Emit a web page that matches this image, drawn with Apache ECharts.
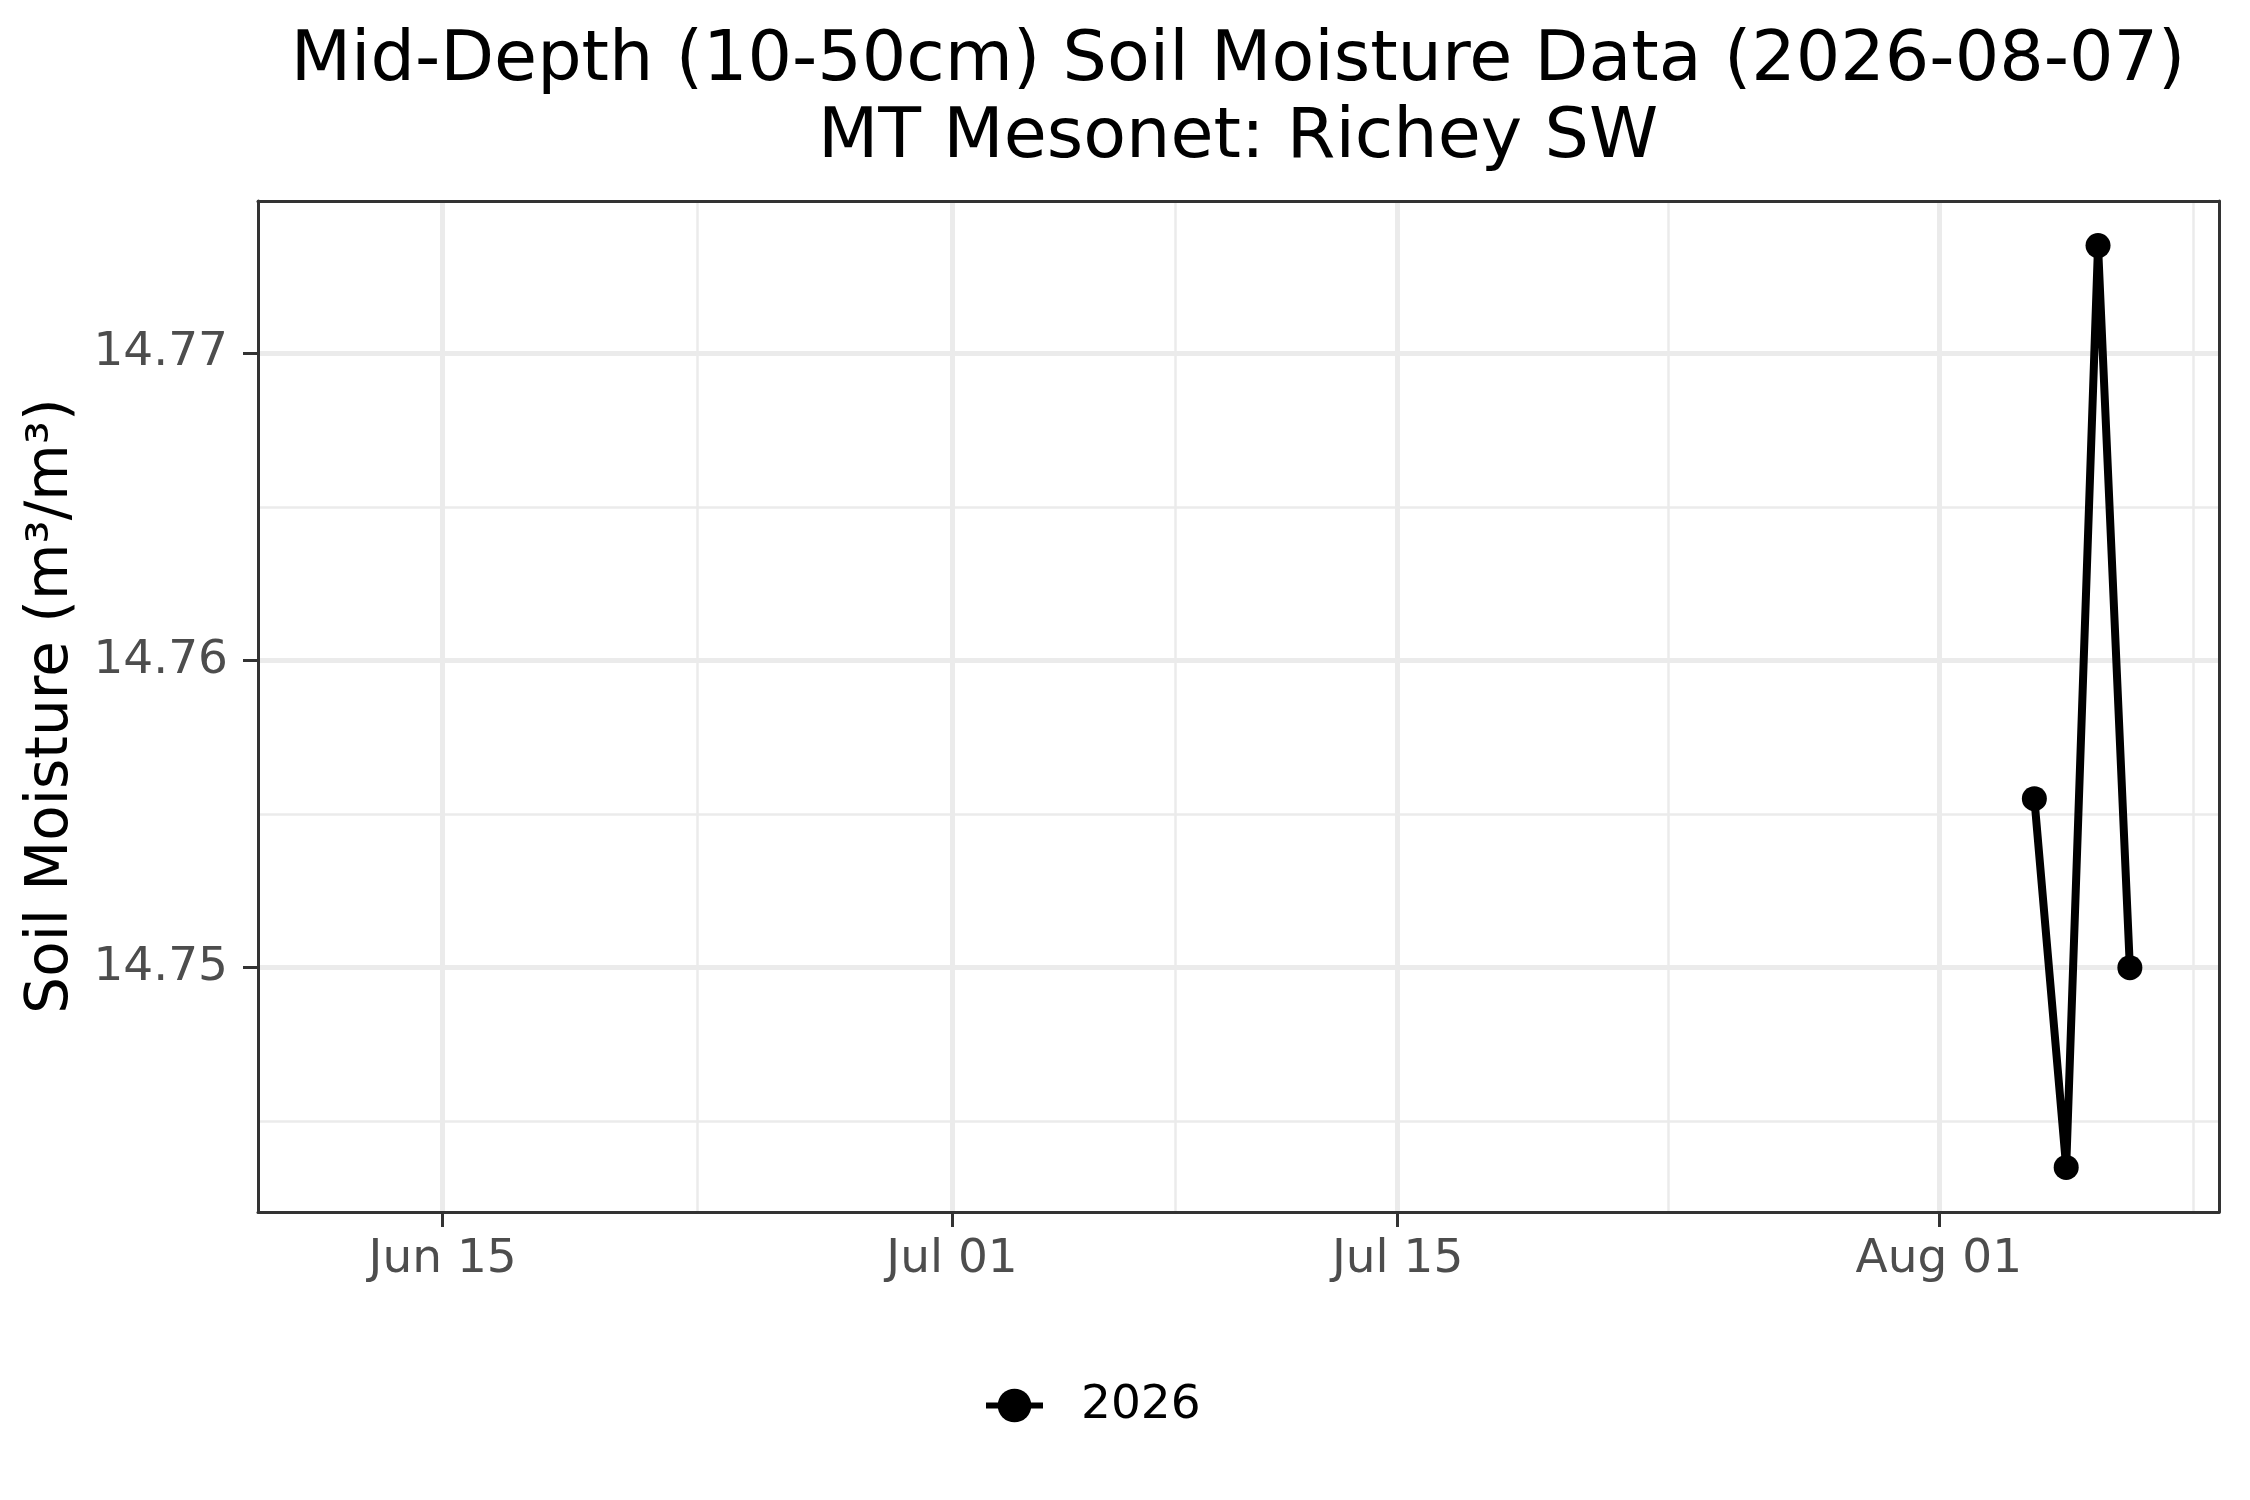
<!DOCTYPE html>
<html>
<head>
<meta charset="utf-8">
<script src="https://cdn.jsdelivr.net/npm/echarts@6/dist/echarts.min.js"></script>
<style>
  html, body { margin: 0; padding: 0; background: #fff; }
  #chart { width: 2250px; height: 1500px; }
</style>
</head>
<body>
<div id="chart"></div>
<script>
// data
var dates = ['2026-08-04', '2026-08-05', '2026-08-06', '2026-08-07'];
var moisture = [14.7555, 14.7435, 14.7735, 14.7500];
var seriesName = '2026';

// ticks
var xMajor = ['2026-06-15', '2026-07-01', '2026-07-15', '2026-08-01'];
var xMinor = ['2026-06-23', '2026-07-08', '2026-07-23T12:00', '2026-08-09'];
var yMajor = [14.75, 14.76, 14.77];
var yMinor = [14.745, 14.755, 14.765];

var DAY = 86400000;
var months = ['Jan','Feb','Mar','Apr','May','Jun','Jul','Aug','Sep','Oct','Nov','Dec'];
function ts(s) {
  if (s.indexOf('T') < 0) s += 'T00:00';
  return Date.parse(s + ':00Z');
}
function fmtDate(v) {
  var d = new Date(v);
  var dd = d.getUTCDate();
  return months[d.getUTCMonth()] + ' ' + (dd < 10 ? '0' + dd : dd);
}

var xMin = ts('2026-06-09') + 0.2 * DAY;
var xMax = ts('2026-08-09') + 0.8 * DAY;
var yMin = 14.74205, yMax = 14.77495;

var font = 'DejaVu Sans';
var border = { show: true, onZero: false, lineStyle: { color: '#333333', width: 3 } };
var chart = echarts.init(document.getElementById('chart'));

var points = dates.map(function (d, i) { return [ts(d), moisture[i]]; });

chart.setOption({
  animation: false,
  backgroundColor: '#ffffff',
  textStyle: { fontFamily: font },
  graphic: [
    { type: 'text', x: 1238, y: 62, style: { text: 'Mid-Depth (10-50cm) Soil Moisture Data (2026-08-07)', font: '70px "DejaVu Sans"', fill: '#000', textAlign: 'center', textVerticalAlign: 'middle' } },
    { type: 'text', x: 1238, y: 139, style: { text: 'MT Mesonet: Richey SW', font: '70px "DejaVu Sans"', fill: '#000', textAlign: 'center', textVerticalAlign: 'middle' } },
    { type: 'text', x: 52, y: 706, rotation: Math.PI / 2, style: { text: 'Soil Moisture (m³/m³)', font: '58px "DejaVu Sans"', fill: '#000', textAlign: 'center', textVerticalAlign: 'middle' } }
  ],
  grid: {
    left: 258, right: 31, top: 201, bottom: 288,
    containLabel: false, outerBoundsMode: 'none', show: false
  },
  legend: {
    data: [seriesName],
    left: 978, top: 1377,
    itemWidth: 57, itemHeight: 42,
    textStyle: { fontSize: 47, color: '#000', fontFamily: font, padding: [0, 0, 0, 33] },
    lineStyle: { width: 6 }
  },
  xAxis: [
    {
      type: 'value', min: xMin, max: xMax, scale: true, position: 'bottom',
      axisLine: border,
      axisTick: { show: true, length: 15, lineStyle: { color: '#333333', width: 3 }, customValues: xMajor.map(ts) },
      axisLabel: { show: true, customValues: xMajor.map(ts), formatter: fmtDate, fontSize: 47, color: '#4D4D4D', margin: 24, fontFamily: font },
      splitLine: { show: true, lineStyle: { color: '#EBEBEB', width: 5 } }
    },
    {
      type: 'value', min: xMin, max: xMax, scale: true, position: 'top',
      axisLine: border,
      axisTick: { show: false, customValues: xMinor.map(ts) },
      axisLabel: { show: false, customValues: xMinor.map(ts) },
      splitLine: { show: true, lineStyle: { color: '#EBEBEB', width: 2.5 } }
    }
  ],
  yAxis: [
    {
      type: 'value', min: yMin, max: yMax, scale: true, position: 'left',
      axisLine: border,
      axisTick: { show: true, length: 15, lineStyle: { color: '#333333', width: 3 }, customValues: yMajor },
      axisLabel: { show: true, customValues: yMajor, formatter: function (v) { return v.toFixed(2); }, fontSize: 47, color: '#4D4D4D', margin: 30, fontFamily: font },
      splitLine: { show: true, lineStyle: { color: '#EBEBEB', width: 5 } }
    },
    {
      type: 'value', min: yMin, max: yMax, scale: true, position: 'right',
      axisLine: border,
      axisTick: { show: false, customValues: yMinor },
      axisLabel: { show: false, customValues: yMinor },
      splitLine: { show: true, lineStyle: { color: '#EBEBEB', width: 2.5 } }
    }
  ],
  series: [{
    name: seriesName,
    type: 'line',
    xAxisIndex: 0, yAxisIndex: 0,
    data: points,
    symbol: 'circle', symbolSize: 25, showSymbol: true,
    lineStyle: { color: '#000', width: 8 },
    itemStyle: { color: '#000' },
    z: 5
  }]
});
</script>
</body>
</html>
